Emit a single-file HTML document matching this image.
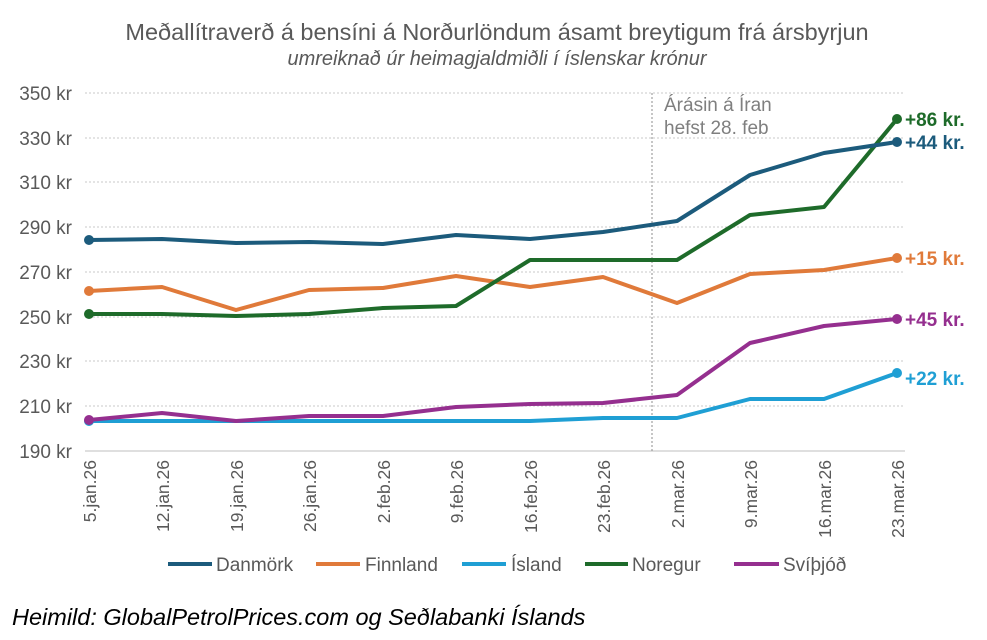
<!DOCTYPE html>
<html><head><meta charset="utf-8"><style>
body{margin:0;background:#fff;}
svg{display:block;font-family:"Liberation Sans",Arial,sans-serif;}
</style></head><body>
<svg width="987" height="640" viewBox="0 0 987 640">
<text x="497" y="40" text-anchor="middle" font-size="23.5" fill="#595959">Meðallítraverð á bensíni á Norðurlöndum ásamt breytigum frá ársbyrjun</text>
<text x="497" y="65" text-anchor="middle" font-size="20" font-style="italic" fill="#595959">umreiknað úr heimagjaldmiðli í íslenskar krónur</text>
<g stroke="#c8c8c8" stroke-dasharray="2,2" stroke-width="1">
<line x1="85" x2="905" y1="93" y2="93"/><line x1="85" x2="905" y1="138" y2="138"/><line x1="85" x2="905" y1="182" y2="182"/><line x1="85" x2="905" y1="227" y2="227"/><line x1="85" x2="905" y1="272" y2="272"/><line x1="85" x2="905" y1="317" y2="317"/><line x1="85" x2="905" y1="361" y2="361"/><line x1="85" x2="905" y1="406" y2="406"/>
</g>
<line x1="85" x2="905" y1="451" y2="451" stroke="#bfbfbf"/>
<g font-size="19" fill="#595959" text-anchor="end">
<text x="72" y="100">350 kr</text><text x="72" y="145">330 kr</text><text x="72" y="189">310 kr</text><text x="72" y="234">290 kr</text><text x="72" y="279">270 kr</text><text x="72" y="324">250 kr</text><text x="72" y="368">230 kr</text><text x="72" y="413">210 kr</text><text x="72" y="458">190 kr</text>
</g>
<line x1="652" x2="652" y1="93" y2="451" stroke="#8c8c8c" stroke-dasharray="2,2"/>
<text x="664" y="111" font-size="19" fill="#7f7f7f">Árásin á Íran</text>
<text x="664" y="134" font-size="19" fill="#7f7f7f">hefst 28. feb</text>
<g font-size="17.5" fill="#595959" text-anchor="end">
<text transform="translate(96,460) rotate(-90)">5.jan.26</text>
<text transform="translate(169,460) rotate(-90)">12.jan.26</text>
<text transform="translate(243,460) rotate(-90)">19.jan.26</text>
<text transform="translate(316,460) rotate(-90)">26.jan.26</text>
<text transform="translate(390,460) rotate(-90)">2.feb.26</text>
<text transform="translate(463,460) rotate(-90)">9.feb.26</text>
<text transform="translate(537,460) rotate(-90)">16.feb.26</text>
<text transform="translate(610,460) rotate(-90)">23.feb.26</text>
<text transform="translate(684,460) rotate(-90)">2.mar.26</text>
<text transform="translate(757,460) rotate(-90)">9.mar.26</text>
<text transform="translate(831,460) rotate(-90)">16.mar.26</text>
<text transform="translate(904,460) rotate(-90)">23.mar.26</text>
</g>
<g fill="none" stroke-width="4" stroke-linejoin="round">
<polyline stroke="#1f9fd4" points="89,421 162,421 236,421 309,421 383,421 456,421 530,421 603,418 677,418 750,399 824,399 897,373"/>
<polyline stroke="#952f8f" points="89,420 162,413 236,421 309,416 383,416 456,407 530,404 603,403 677,395 750,343 824,326 897,319"/>
<polyline stroke="#e07a3a" points="89,291 162,287 236,310 309,290 383,288 456,276 530,287 603,277 677,303 750,274 824,270 897,258"/>
<polyline stroke="#1e6b2a" points="89,314 162,314 236,316 309,314 383,308 456,306 530,260 603,260 677,260 750,215 824,207 897,119"/>
<polyline stroke="#1c5b7c" points="89,240 162,239 236,243 309,242 383,244 456,235 530,239 603,232 677,221 750,175 824,153 897,142"/>
</g>
<g>
<circle cx="89" cy="421" r="5" fill="#1f9fd4"/><circle cx="897" cy="373" r="5" fill="#1f9fd4"/>
<circle cx="89" cy="420" r="5" fill="#952f8f"/><circle cx="897" cy="319" r="5" fill="#952f8f"/>
<circle cx="89" cy="291" r="5" fill="#e07a3a"/><circle cx="897" cy="258" r="5" fill="#e07a3a"/>
<circle cx="89" cy="314" r="5" fill="#1e6b2a"/><circle cx="897" cy="119" r="5" fill="#1e6b2a"/>
<circle cx="89" cy="240" r="5" fill="#1c5b7c"/><circle cx="897" cy="142" r="5" fill="#1c5b7c"/>
</g>
<g font-size="19" font-weight="bold">
<text x="905" y="126" fill="#1e6b2a">+86 kr.</text>
<text x="905" y="149" fill="#1c5b7c">+44 kr.</text>
<text x="905" y="265" fill="#e07a3a">+15 kr.</text>
<text x="905" y="326" fill="#952f8f">+45 kr.</text>
<text x="905" y="385" fill="#1f9fd4">+22 kr.</text>
</g>
<g stroke-width="4">
<line x1="168" x2="212" y1="564" y2="564" stroke="#1c5b7c"/>
<line x1="316" x2="360" y1="564" y2="564" stroke="#e07a3a"/>
<line x1="462" x2="506" y1="564" y2="564" stroke="#1f9fd4"/>
<line x1="585" x2="628" y1="564" y2="564" stroke="#1e6b2a"/>
<line x1="734" x2="779" y1="564" y2="564" stroke="#952f8f"/>
</g>
<g font-size="19" fill="#595959">
<text x="216" y="571">Danmörk</text><text x="365" y="571">Finnland</text><text x="511" y="571">Ísland</text><text x="632" y="571">Noregur</text><text x="783" y="571">Svíþjóð</text>
</g>
<text x="12" y="625" font-size="23.5" font-style="italic" fill="#000">Heimild: GlobalPetrolPrices.com og Seðlabanki Íslands</text>
</svg>
</body></html>
